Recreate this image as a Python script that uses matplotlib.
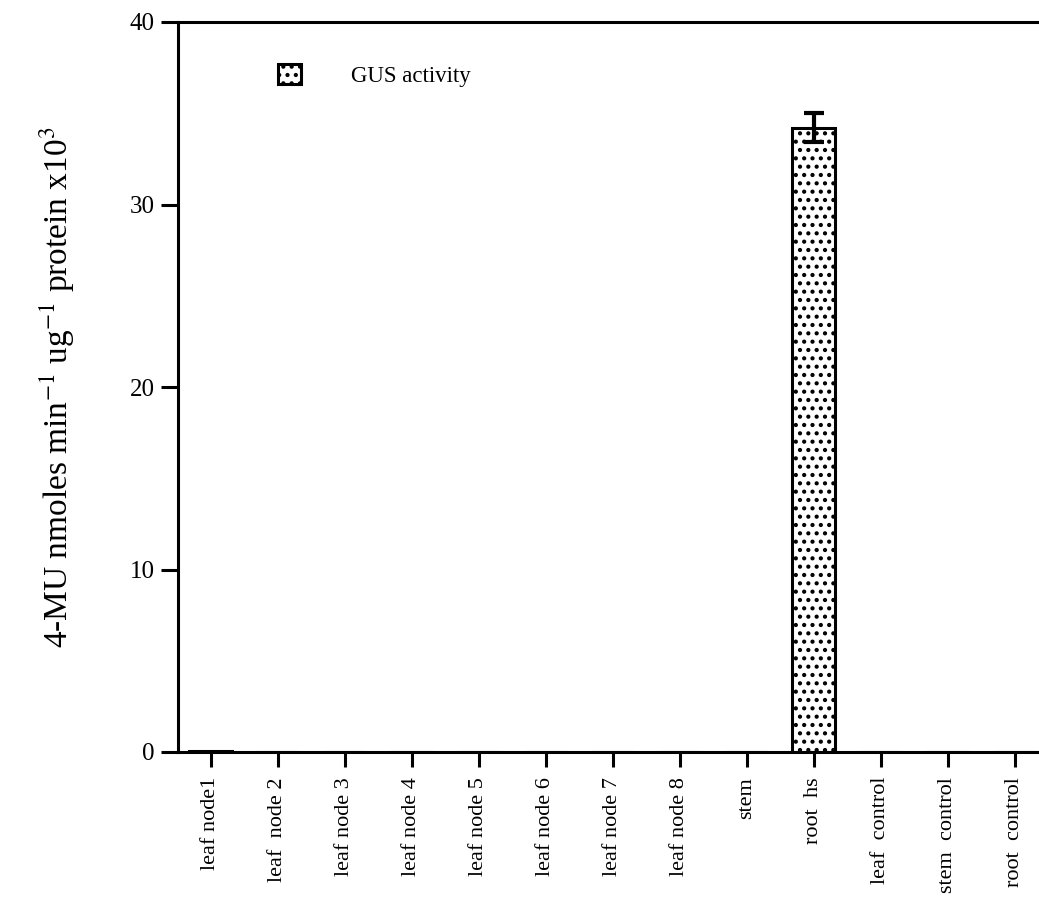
import matplotlib
matplotlib.use("Agg")
import matplotlib.pyplot as plt
import numpy as np

categories = ["leaf node1", "leaf  node 2", "leaf node 3", "leaf node 4", "leaf node 5",
              "leaf node 6", "leaf node 7", "leaf node 8", "stem", "root  hs",
              "leaf  control", "stem  control", "root  control"]
values = [0.03, 0.02, 0.0, 0.0, 0.0, 0.0, 0.0, 0.0, 0.0, 34.2, 0.0, 0.0, 0.0]
errors = [0, 0, 0, 0, 0, 0, 0, 0, 0, 0.8, 0, 0, 0]
yticks = [0, 10, 20, 30, 40]

plt.rcParams['font.family'] = ['Liberation Serif', 'DejaVu Serif']
plt.rcParams['mathtext.fontset'] = 'stix'
plt.rcParams['hatch.linewidth'] = 1.8

fig = plt.figure(figsize=(10.39, 9.02), dpi=100)
ax = fig.add_axes([178/1039, 1-752/902, 1-178/1039, (752-22)/902])

x = np.arange(len(categories))
ax.bar(x, values, width=0.64, color='white', edgecolor='black', linewidth=2.2,
       hatch='..', label='GUS activity', zorder=2)
for xi, v, e in zip(x, values, errors):
    if e > 0:
        ax.errorbar(xi, v, yerr=e, fmt='none', ecolor='black', elinewidth=3,
                    capsize=7, capthick=3, zorder=3)

ax.set_xlim(-0.49, 12.36)
ax.set_ylim(0, 40)
ax.set_yticks(yticks)
ax.set_yticklabels([str(t) for t in yticks], fontsize=18)
ax.set_xticks(x)
ax.set_xticklabels(categories, rotation=90, fontsize=16)

for s in ['left', 'bottom', 'top']:
    ax.spines[s].set_linewidth(2.2)
ax.spines['right'].set_visible(False)
ax.tick_params(axis='y', direction='out', length=12, width=2.2, pad=5)
ax.tick_params(axis='x', direction='out', length=11, width=2.2, pad=7)

ax.set_ylabel(r"4-MU nmoles min$^{-1}$ ug$^{-1}$ protein x10$^{3}$", fontsize=24, labelpad=38)

ax.legend(loc='upper left', bbox_to_anchor=(0.092, 0.971), frameon=False, fontsize=16.5,
          handlelength=1.0, handleheight=1.0, handletextpad=2.2)

fig.savefig("out.png", dpi=100)
